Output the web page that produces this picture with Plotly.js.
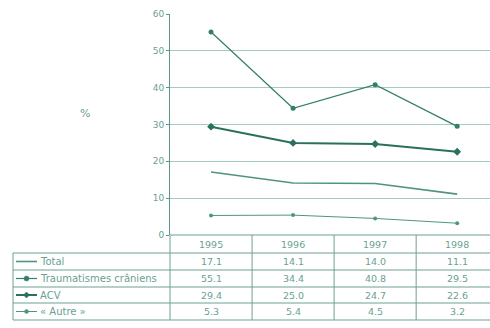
<!DOCTYPE html>
<html>
<head>
<meta charset="utf-8">
<script src="https://cdn.plot.ly/plotly-3.0.1.min.js"></script>
<style>html,body{margin:0;padding:0;background:#fff;}#chart{width:490px;height:328px;}</style>
</head>
<body>
<div id="chart"></div>
<script>
var years = ['1995', '1996', '1997', '1998'];
var seriesNames = ['Total', 'Traumatismes crâniens', 'ACV', '« Autre »'];
var total = [17.1, 14.1, 14.0, 11.1];
var trauma = [55.1, 34.4, 40.8, 29.5];
var acv = [29.4, 25.0, 24.7, 22.6];
var autre = [5.3, 5.4, 4.5, 3.2];
var yTicks = [0, 10, 20, 30, 40, 50, 60];

var values = [total, trauma, acv, autre];
var lineCol = '#347e6c';
var textCol = '#6a9f91';
var gridCol = '#a3cbbf';
var fam = 'DejaVu Sans, Liberation Sans, Arial, sans-serif';
var styles = [
  {w: 1.6, col: '#4e9482', sym: null, size: 0},
  {w: 1.2, col: lineCol, sym: 'circle', size: 5},
  {w: 2.0, col: '#2a705e', sym: 'diamond', size: 6},
  {w: 1.0, col: '#4e9482', sym: 'circle', size: 4}
];
var xIdx = years.map(function(_, i){ return i; });
var traces = values.map(function(v, k){
  var s = styles[k];
  var t = {x: xIdx, y: v, type: 'scatter', name: seriesNames[k],
    mode: s.sym ? 'lines+markers' : 'lines',
    line: {color: s.col, width: s.w}, hoverinfo: 'skip'};
  if (s.sym) t.marker = {symbol: s.sym, size: s.size, color: s.col};
  return t;
});

var xr = [-0.5, 3.4];
var H = 221; // plot height px
function py(p){ return (235 - p) / H; } // pixel -> paper y
function pxv(v){ return (v - xr[0]) / (xr[1] - xr[0]); }
function pxp(p){ return (p - 170) / 320; }

var rowLines = [253, 270, 287, 303, 320];
var rowCenters = [261.5, 278.5, 295, 311.5];
var shapes = [];
var annotations = [];
var lcol = '#6f9f92';
shapes.push({type:'line', xref:'paper', yref:'paper', x0:0, x1:1.05, y0:py(235), y1:py(235), line:{color:lcol, width:1}});
rowLines.forEach(function(p){
  shapes.push({type:'line', xref:'paper', yref:'paper', x0:pxp(13), x1:1.05, y0:py(p), y1:py(p), line:{color:lcol, width:1}});
});
shapes.push({type:'line', xref:'paper', yref:'paper', x0:pxp(13), x1:pxp(13), y0:py(253), y1:py(320), line:{color:lcol, width:1}});
for (var i = 0; i <= years.length; i++) {
  var xv = pxv(i - 0.5);
  if (xv > 1.01) continue;
  shapes.push({type:'line', xref:'paper', yref:'paper', x0:xv, x1:xv, y0:py(235), y1:py(320), line:{color:lcol, width:1}});
}
years.forEach(function(yr, i){
  annotations.push({x:i, xref:'x', y:py(244), yref:'paper', text:yr, showarrow:false,
    font:{family:fam, size:9.5, color:textCol}, xanchor:'center', yanchor:'middle'});
});
values.forEach(function(v, k){
  v.forEach(function(val, i){
    annotations.push({x:i, xref:'x', y:py(rowCenters[k]), yref:'paper', text:val.toFixed(1), showarrow:false,
      font:{family:fam, size:9.5, color:textCol}, xanchor:'center', yanchor:'middle'});
  });
  annotations.push({x:pxp(38), xref:'paper', y:py(rowCenters[k]), yref:'paper', text:seriesNames[k], showarrow:false,
    font:{family:fam, size:10, color:textCol}, xanchor:'left', yanchor:'middle'});
  var s = styles[k];
  shapes.push({type:'line', xref:'paper', yref:'paper', x0:pxp(16), x1:pxp(37), y0:py(rowCenters[k]), y1:py(rowCenters[k]),
    line:{color:s.col, width:s.w}});
  if (s.sym) {
    var r = s.size / 2, cx = 26.5, cy = rowCenters[k];
    if (s.sym === 'diamond') {
      shapes.push({type:'path', xref:'paper', yref:'paper',
        path:'M'+pxp(cx-r)+','+py(cy)+' L'+pxp(cx)+','+py(cy-r)+' L'+pxp(cx+r)+','+py(cy)+' L'+pxp(cx)+','+py(cy+r)+' Z',
        fillcolor:s.col, line:{color:s.col, width:0.5}});
    } else {
      shapes.push({type:'circle', xref:'paper', yref:'paper', x0:pxp(cx-r), x1:pxp(cx+r), y0:py(cy+r), y1:py(cy-r),
        fillcolor:s.col, line:{color:s.col, width:0.5}});
    }
  }
});
annotations.push({x:pxp(85), xref:'paper', y:py(114), yref:'paper', text:'%', showarrow:false,
  font:{family:fam, size:11, color:textCol}, xanchor:'center', yanchor:'middle'});

var layout = {
  width: 490, height: 328,
  margin: {l:170, r:0, t:14, b:93},
  paper_bgcolor: '#ffffff', plot_bgcolor: '#ffffff',
  showlegend: false,
  font: {family: fam, size: 10, color: textCol},
  xaxis: {range: xr, showticklabels: false, showgrid: false, zeroline: false, ticks: '', fixedrange: true},
  yaxis: {range: [0, 60], tickvals: yTicks, ticktext: yTicks.map(String), showgrid: true, gridcolor: gridCol, gridwidth: 1,
    zeroline: false, showline: true, linecolor: '#5f9384', linewidth: 1, ticks: 'outside', ticklen: 3,
    tickcolor: '#5f9384', tickfont: {family: fam, size: 9, color: textCol}, fixedrange: true},
  shapes: shapes,
  annotations: annotations
};
Plotly.newPlot('chart', traces, layout, {staticPlot: true, displayModeBar: false});
</script>
</body>
</html>
